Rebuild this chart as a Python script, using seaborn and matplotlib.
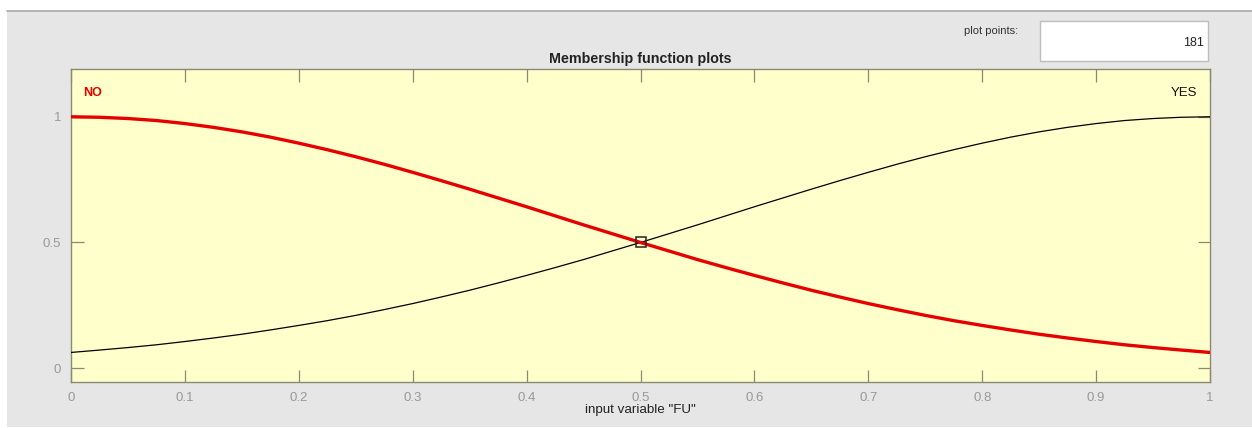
import matplotlib
matplotlib.use("Agg")
import matplotlib.pyplot as plt
from matplotlib.patches import Rectangle
import pandas as pd
import seaborn as sns

# Input variable "FU" sampled on [0, 1]
x_vals = [0.000, 0.025, 0.050, 0.075, 0.100, 0.125, 0.150, 0.175, 0.200, 0.225,
          0.250, 0.275, 0.300, 0.325, 0.350, 0.375, 0.400, 0.425, 0.450, 0.475,
          0.500, 0.525, 0.550, 0.575, 0.600, 0.625, 0.650, 0.675, 0.700, 0.725,
          0.750, 0.775, 0.800, 0.825, 0.850, 0.875, 0.900, 0.925, 0.950, 0.975,
          1.000]

# Membership degrees of the two terms
no_vals = [1.000, 0.998, 0.993, 0.985, 0.973, 0.958, 0.940, 0.919, 0.895, 0.869,
           0.841, 0.811, 0.779, 0.746, 0.712, 0.677, 0.642, 0.606, 0.570, 0.535,
           0.500, 0.466, 0.432, 0.400, 0.369, 0.339, 0.310, 0.283, 0.257, 0.233,
           0.210, 0.189, 0.170, 0.152, 0.135, 0.120, 0.106, 0.093, 0.082, 0.072,
           0.0625]
yes_vals = [0.0625, 0.072, 0.082, 0.093, 0.106, 0.120, 0.135, 0.152, 0.170, 0.189,
            0.210, 0.233, 0.257, 0.283, 0.310, 0.339, 0.369, 0.400, 0.432, 0.466,
            0.500, 0.535, 0.570, 0.606, 0.642, 0.677, 0.712, 0.746, 0.779, 0.811,
            0.841, 0.869, 0.895, 0.919, 0.940, 0.958, 0.973, 0.985, 0.993, 0.998,
            1.000]

x_ticks = [0, 0.1, 0.2, 0.3, 0.4, 0.5, 0.6, 0.7, 0.8, 0.9, 1]
x_tick_labels = ["0", "0.1", "0.2", "0.3", "0.4", "0.5", "0.6", "0.7", "0.8", "0.9", "1"]
y_ticks = [0, 0.5, 1]
y_tick_labels = ["0", "0.5", "1"]

crossing = (0.5, 0.5)
plot_points = 181

sns.set_style("ticks")
plt.rcParams["font.family"] = ["Liberation Sans", "DejaVu Sans"]

W, H = 1252, 428
fig = plt.figure(figsize=(W / 100, H / 100), dpi=100)
fig.patch.set_facecolor("white")

# grey panel behind the plot
fig.add_artist(Rectangle((7 / W, 1 / H), (W - 7) / W, (H - 12) / H,
                         transform=fig.transFigure, facecolor="#e6e6e6",
                         edgecolor="none", zorder=0))
fig.add_artist(plt.Line2D([7 / W, 1], [1 - 11 / H, 1 - 11 / H],
                          transform=fig.transFigure, color="#a8a8a8", lw=1.2))

# "plot points" field
fig.add_artist(Rectangle((1040 / W, 1 - 61 / H), 168 / W, 40 / H,
                         transform=fig.transFigure, facecolor="white",
                         edgecolor="#bdbdbd", lw=1.0, zorder=1))
fig.text(1204 / W, 1 - 43 / H, str(plot_points), ha="right", va="center",
         fontsize=9, color="#222222")
fig.text(1018 / W, 1 - 31 / H, "plot points:", ha="right", va="center",
         fontsize=8, color="#333333")

ax = fig.add_axes([71 / W, 46 / H, 1139 / W, 313 / H])
ax.set_facecolor("#ffffcc")

df = pd.DataFrame({"x": x_vals, "NO": no_vals, "YES": yes_vals})
sns.lineplot(data=df, x="x", y="YES", ax=ax, color="black", lw=0.9, zorder=3)
sns.lineplot(data=df, x="x", y="NO", ax=ax, color="#e60000", lw=2.4, zorder=4)
ax.plot([crossing[0]], [crossing[1]], marker="s", ms=7, mfc="none",
        mec="#222222", mew=1.1, zorder=5)

ax.text(0.011, 1.095, "NO", color="#e60000", fontsize=9, fontweight="bold",
        ha="left", va="center")
ax.text(0.989, 1.095, "YES", color="#111111", fontsize=9.5,
        ha="right", va="center")

ax.set_xlim(0, 1)
ax.set_ylim(-0.055, 1.19)
ax.set_xticks(x_ticks)
ax.set_xticklabels(x_tick_labels)
ax.set_yticks(y_ticks)
ax.set_yticklabels(y_tick_labels)

spine_col = "#8a8a72"
for s in ax.spines.values():
    s.set_visible(True)
    s.set_color(spine_col)
    s.set_linewidth(1.0)
ax.tick_params(direction="in", length=9, width=0.9, color=spine_col,
               top=True, right=True, labelsize=9.5, labelcolor="#999999", pad=7)

ax.set_xlabel('input variable "FU"', fontsize=9.6, color="#222222", labelpad=0)
ax.set_ylabel("")
ax.set_title("Membership function plots", fontsize=10.3, fontweight="bold",
             color="#222222", pad=4)

fig.savefig("out.png", dpi=100, facecolor=fig.get_facecolor())
